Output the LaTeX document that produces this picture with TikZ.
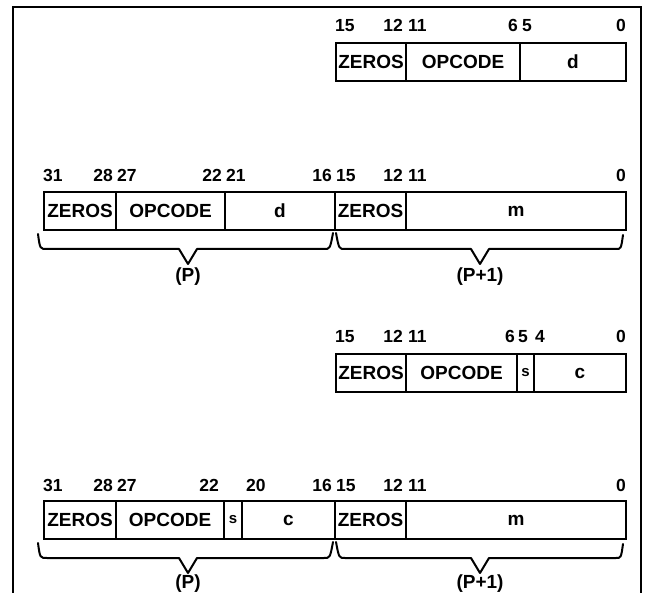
\documentclass[tikz,border=0pt]{standalone}
\usepackage{fontspec}
\setmainfont{Liberation Sans}
\begin{document}
\begin{tikzpicture}[x=1pt,y=-1pt,
  cell/.style={draw, line width=2pt, minimum height=38pt, inner sep=0pt, anchor=north west,
    font=\bfseries\fontsize{19}{19}\selectfont},
  small/.style={font=\bfseries\fontsize{15}{15}\selectfont},
  bitl/.style={inner sep=0pt, anchor=base west, font=\bfseries\fontsize{17.5}{17.5}\selectfont},
  bitr/.style={inner sep=0pt, anchor=base east, font=\bfseries\fontsize{17.5}{17.5}\selectfont},
  brace/.style={line width=2pt, line join=round, line cap=round},
  blabel/.style={inner sep=0pt, font=\bfseries\fontsize{19}{19}\selectfont},
  frame/.style={line width=2.5pt}]
\useasboundingbox (0,0) rectangle (648,593);
% frame
\coordinate (fbl) at (13,593);
\coordinate (ftl) at (13,7);
\coordinate (ftr) at (641,7);
\coordinate (fbr) at (641,593);
\draw[frame] (fbl) -- (ftl) -- (ftr) -- (fbr);

% ---------- format 1 ----------
\node[cell, minimum width=70pt] (a1) at (335,42) {ZEROS};
\node[cell, minimum width=114pt] (a2) at (405,42) {OPCODE};
\node[cell, minimum width=106pt] (a3) at (519,42) {d};
\node[bitl] (n1a) at (335,32) {15};
\node[bitr] (n1b) at (403,32) {12};
\node[bitl] (n1c) at (408,32) {11};
\node[bitr] (n1d) at (518,32) {6};
\node[bitl] (n1e) at (522,32) {5};
\node[bitr] (n1f) at (626,32) {0};

% ---------- format 2 ----------
\node[cell, minimum width=72pt] (b1) at (43,191) {ZEROS};
\node[cell, minimum width=109pt] (b2) at (115,191) {OPCODE};
\node[cell, minimum width=110pt] (b3) at (224,191) {d};
\node[cell, minimum width=71pt] (b4) at (334,191) {ZEROS};
\node[cell, minimum width=220pt] (b5) at (405,191) {m};
\node[bitl] (n2a) at (43,182) {31};
\node[bitr] (n2b) at (113,182) {28};
\node[bitl] (n2c) at (117,182) {27};
\node[bitr] (n2d) at (222,182) {22};
\node[bitl] (n2e) at (226,182) {21};
\node[bitr] (n2f) at (332,182) {16};
\node[bitl] (n2g) at (336,182) {15};
\node[bitr] (n2h) at (403,182) {12};
\node[bitl] (n2i) at (408,182) {11};
\node[bitr] (n2j) at (626,182) {0};
\draw[brace] (38,234) .. controls (40,249) .. (47,249) -- (179,249) -- (188,264) -- (197,249) -- (324,249) .. controls (330,249) .. (333,233);
\draw[brace] (336,233) .. controls (339,249) .. (345,249) -- (471,249) -- (480,264) -- (489,249) -- (616,249) .. controls (621,249) .. (623,235);
\node[blabel] (p2a) at (188,277) {(P)};
\node[blabel] (p2b) at (480,277) {(P+1)};

% ---------- format 3 ----------
\node[cell, minimum width=70pt] (c1) at (335,353) {ZEROS};
\node[cell, minimum width=111pt] (c2) at (405,353) {OPCODE};
\node[cell, minimum width=17pt, small] (c3) at (516,353) {s};
\node[cell, minimum width=92pt] (c4) at (533,353) {c};
\node[bitl] (n3a) at (335,343) {15};
\node[bitr] (n3b) at (403,343) {12};
\node[bitl] (n3c) at (408,343) {11};
\node[bitr] (n3d) at (515,343) {6};
\node[bitl] (n3e) at (518,343) {5};
\node[bitl] (n3f) at (535,343) {4};
\node[bitr] (n3g) at (626,343) {0};

% ---------- format 4 ----------
\node[cell, minimum width=72pt] (d1) at (43,500) {ZEROS};
\node[cell, minimum width=108pt] (d2) at (115,500) {OPCODE};
\node[cell, minimum width=18pt, small] (d3) at (223,500) {s};
\node[cell, minimum width=93pt] (d4) at (241,500) {c};
\node[cell, minimum width=71pt] (d5) at (334,500) {ZEROS};
\node[cell, minimum width=220pt] (d6) at (405,500) {m};
\node[bitl] (n4a) at (43,491) {31};
\node[bitr] (n4b) at (113,491) {28};
\node[bitl] (n4c) at (117,491) {27};
\node[bitr] (n4d) at (219,491) {22};
\node[bitl] (n4e) at (246,491) {20};
\node[bitr] (n4f) at (332,491) {16};
\node[bitl] (n4g) at (336,491) {15};
\node[bitr] (n4h) at (403,491) {12};
\node[bitl] (n4i) at (408,491) {11};
\node[bitr] (n4j) at (626,491) {0};
\draw[brace] (38,543) .. controls (40,558) .. (47,558) -- (179,558) -- (188,573) -- (197,558) -- (324,558) .. controls (330,558) .. (333,542);
\draw[brace] (336,542) .. controls (339,558) .. (345,558) -- (471,558) -- (480,573) -- (489,558) -- (616,558) .. controls (621,558) .. (623,544);
\node[blabel] (p4a) at (188,584) {(P)};
\node[blabel] (p4b) at (480,584) {(P+1)};
\end{tikzpicture}
\end{document}
